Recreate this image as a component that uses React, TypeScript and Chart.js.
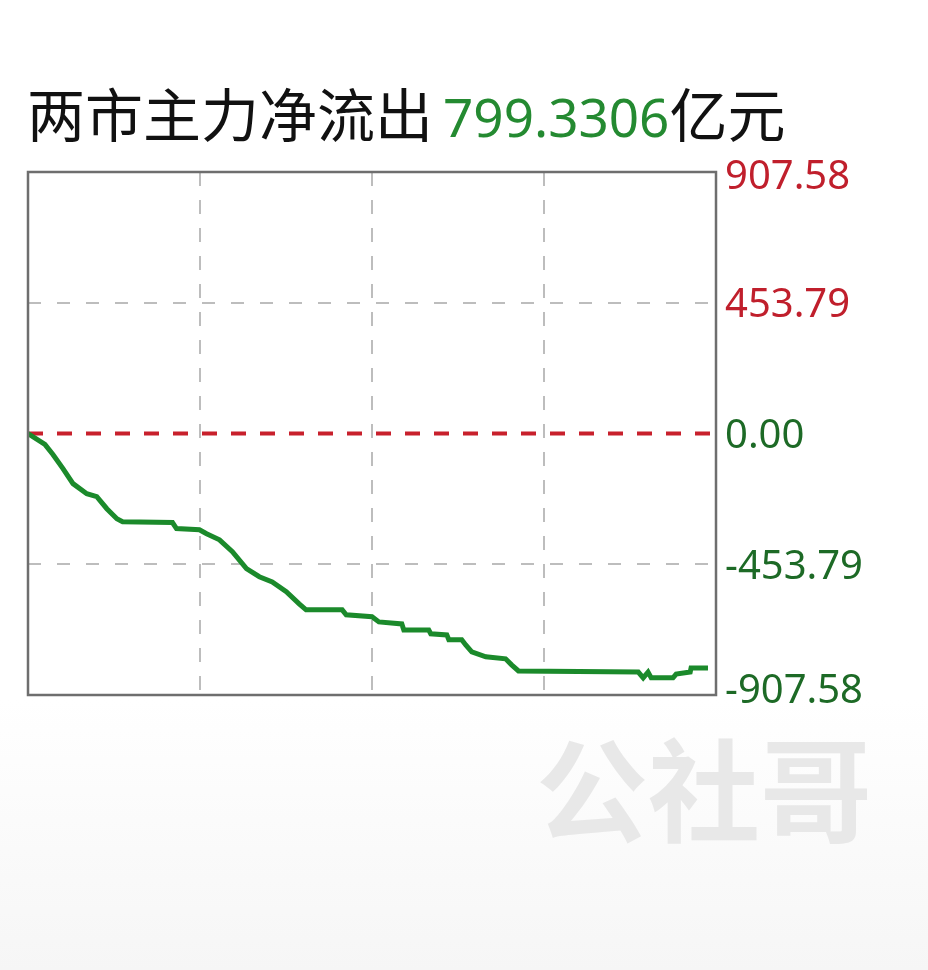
import React, { useEffect, useRef } from "react";
import { Chart, registerables } from "chart.js";

Chart.register(...registerables);

// Minutes since 9:30 open (240 trading minutes)
const minutes = [
  0, 5.9, 8.7, 12.2, 15.7, 20.5, 24.0, 27.5, 31.0, 33.0,
  50.4, 51.8, 59.8, 62.3, 66.8, 71.3, 76.2, 80.7, 85.2, 90.1,
  94.6, 97.0, 109.6, 111.0, 120.0, 122.4, 130.4, 131.1, 139.8, 140.5,
  146.1, 146.8, 151.3, 152.7, 154.8, 159.7, 166.6, 168.7, 171.1, 212.9,
  214.6, 216.3, 217.4, 225.0, 226.1, 231.0, 231.3, 237.2,
];
// Net main-force flow (亿元)
const netFlow = [
  0, -38, -73, -122, -174, -209, -219, -261, -296, -306,
  -309, -330, -334, -348, -369, -410, -469, -497, -515, -549,
  -591, -612, -612, -629, -636, -654, -661, -682, -682, -695,
  -699, -716, -716, -734, -758, -775, -782, -803, -824, -828,
  -848, -828, -848, -848, -835, -828, -814, -814,
];
const zeroLineX = [0, 240];
const zeroLineY = [0, 0];
const yTickValues = [907.58, 453.79, 0, -453.79, -907.58];
const yTickLabels = ["907.58", "453.79", "0.00", "-453.79", "-907.58"];
const xGridMinutes = [0, 60, 120, 180, 240];

const titleText = "两市主力净流出";
const titleAmount = "799.3306";
const titleUnit = "亿元";
const watermark = "公社哥";

const labelPlugin = {
  id: "rightLabels",
  afterDraw(chart: any) {
    const { ctx, chartArea } = chart;
    const yScale = chart.scales.y;
    ctx.save();
    ctx.strokeStyle = "#6e6e6e";
    ctx.lineWidth = 2.5;
    ctx.strokeRect(chartArea.left, chartArea.top, chartArea.right - chartArea.left, chartArea.bottom - chartArea.top);
    ctx.font = '40px "Noto Sans", "Liberation Sans", sans-serif';
    ctx.textAlign = "left";
    ctx.textBaseline = "middle";
    yTickValues.forEach((v, i) => {
      let y = yScale.getPixelForValue(v) + 3;
      if (y < chartArea.top + 6) y = chartArea.top + 6;
      if (y > chartArea.bottom - 3) y = chartArea.bottom - 3;
      ctx.fillStyle = v > 0 ? "#c01f2c" : "#1d6a26";
      ctx.fillText(yTickLabels[i], chartArea.right + 9, y);
    });
    ctx.restore();
  },
};

export default function App() {
  const ref = useRef<HTMLCanvasElement | null>(null);
  useEffect(() => {
    if (!ref.current) return;
    const chart = new Chart(ref.current, {
      type: "line",
      data: {
        datasets: [
          {
            data: minutes.map((m, i) => ({ x: m, y: netFlow[i] })),
            borderColor: "#1b8a2b",
            borderWidth: 5,
            pointRadius: 0,
            tension: 0,
            fill: false,
          },
          {
            data: zeroLineX.map((m, i) => ({ x: m, y: zeroLineY[i] })),
            borderColor: "#c8202c",
            borderWidth: 4,
            borderDash: [15, 14],
            pointRadius: 0,
            fill: false,
          },
        ],
      },
      options: {
        responsive: false,
        animation: false,
        devicePixelRatio: 1,
        layout: { padding: { left: 28, top: 22, right: 212, bottom: 55 } },
        plugins: { legend: { display: false }, tooltip: { enabled: false } },
        scales: {
          x: {
            type: "linear",
            min: 0,
            max: 240,
            afterBuildTicks: (s: any) => {
              s.ticks = xGridMinutes.map((v) => ({ value: v }));
            },
            afterFit: (s: any) => {
              s.height = 0;
            },
            ticks: { display: false },
            grid: {
              drawTicks: false,
              color: "#bdbdbd",
              lineWidth: 2,
            },
            border: { display: false, dash: [14, 14] },
          },
          y: {
            type: "linear",
            position: "right",
            min: -907.58,
            max: 907.58,
            afterBuildTicks: (s: any) => {
              s.ticks = yTickValues.map((v) => ({ value: v }));
            },
            afterFit: (s: any) => {
              s.width = 0;
            },
            ticks: { display: false },
            grid: {
              drawTicks: false,
              color: (c: any) => (c.tick && c.tick.value === 0 ? "rgba(0,0,0,0)" : "#bdbdbd"),
              lineWidth: 2,
            },
            border: { display: false, dash: [13, 16] },
          },
        },
      },
      plugins: [labelPlugin],
    });
    return () => chart.destroy();
  }, []);

  return (
    <div
      style={{
        position: "absolute",
        left: 0,
        top: 0,
        width: 928,
        height: 970,
        overflow: "hidden",
        background: "linear-gradient(to bottom, #ffffff 0px, #ffffff 700px, #f6f6f6 970px)",
      }}
    >
      <div
        style={{
          position: "absolute",
          left: 27,
          top: 83,
          fontSize: 58,
          lineHeight: 1,
          whiteSpace: "nowrap",
          fontFamily: '"Noto Sans CJK SC", sans-serif',
          color: "#111",
        }}
      >
        {titleText}
        <span style={{ marginLeft: 10, color: "#248a31", fontFamily: '"Noto Sans", sans-serif', fontSize: 53 }}>
          {titleAmount}
        </span>
        {titleUnit}
      </div>
      <div
        style={{
          position: "absolute",
          left: 536,
          top: 729,
          fontSize: 112,
          lineHeight: 1,
          fontWeight: 700,
          whiteSpace: "nowrap",
          fontFamily: '"Noto Sans CJK SC", sans-serif',
          color: "#e8e8e8",
        }}
      >
        {watermark}
      </div>
      <canvas
        ref={ref}
        width={928}
        height={600}
        style={{ position: "absolute", left: 0, top: 150, width: 928, height: 600 }}
      />
    </div>
  );
}
